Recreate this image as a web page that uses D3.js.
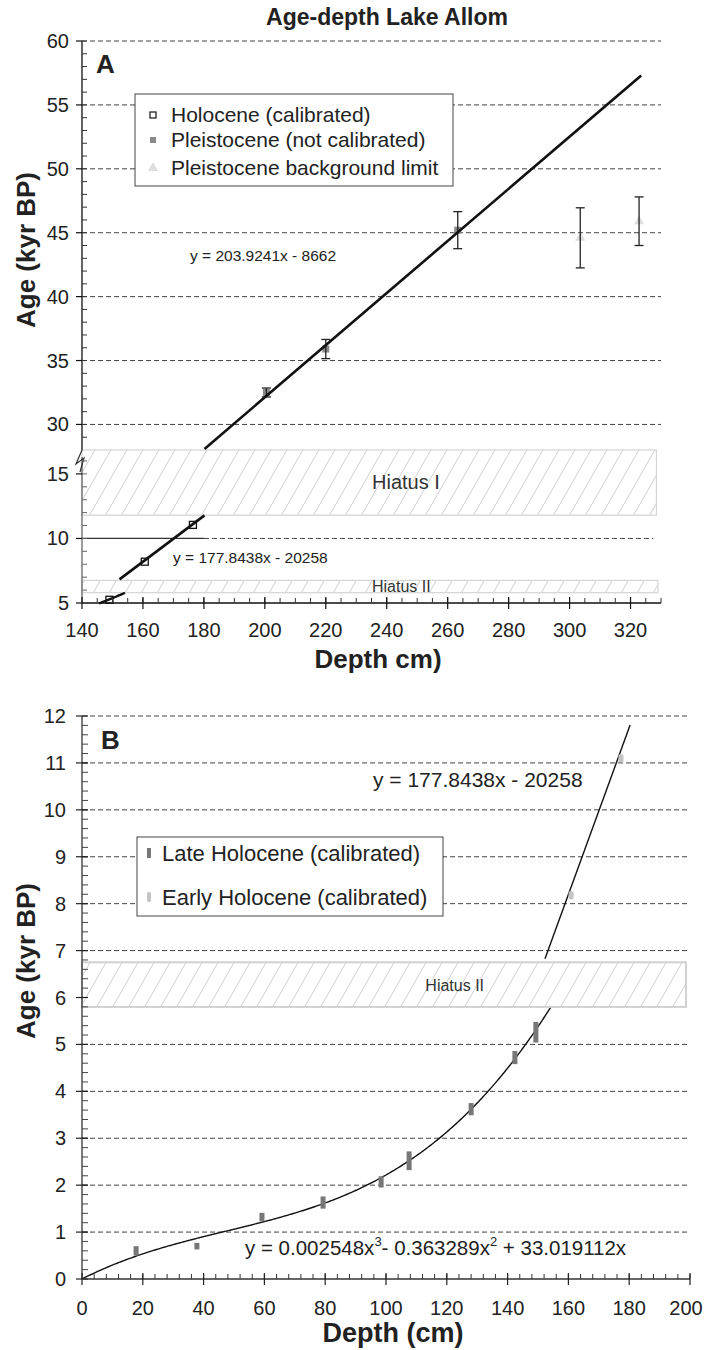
<!DOCTYPE html>
<html>
<head>
<meta charset="utf-8">
<script src="https://cdn.jsdelivr.net/npm/d3@7"></script>
<style>
  body { margin: 0; background: #fff; }
  svg { font-family: "Liberation Sans", Arial, sans-serif; }
</style>
</head>
<body>
<div id="chart"></div>
<script>
// ---- data ----
// panel A (depth cm, age kyr BP)
var holoDepth = [149, 160.6, 176.4];
var holoAge = [5.25, 8.2, 11.05];

var pleiDepth = [200.5, 220, 263.3];
var pleiAge = [32.5, 35.9, 45.2];
var pleiErr = [0.35, 0.75, 1.45];

var bgDepth = [303.5, 322.8];
var bgAge = [44.6, 45.9];
var bgErr = [2.35, 1.9];

// panel B
var lateDepth = [17.8, 37.8, 59.2, 79.3, 98.4, 107.6, 128, 142.4, 149.3];
var lateAge = [0.6, 0.7, 1.32, 1.63, 2.07, 2.52, 3.62, 4.72, 5.26];
var lateErr = [0.1, 0.07, 0.09, 0.13, 0.12, 0.2, 0.13, 0.14, 0.22];

var earlyDepth = [160.9, 177.3];
var earlyAge = [8.18, 11.1];

// trendlines as printed on the chart (age in years)
var holoFit = {slope: 177.8438, icpt: -20258};
var pleiFit = {slope: 203.9241, icpt: -8662};
var cubicFit = [0.002548, -0.363289, 33.019112];

// hiatus bands (kyr)
var hiatusI = [11.8, 16.85];
var hiatusII = [5.8, 6.75];

// tick labels
var xTicksA = [140, 160, 180, 200, 220, 240, 260, 280, 300, 320];
var yTicksAUp = [30, 35, 40, 45, 50, 55, 60];
var yTicksALo = [5, 10, 15];
var xTicksB = [0, 20, 40, 60, 80, 100, 120, 140, 160, 180, 200];
var yTicksB = [0, 1, 2, 3, 4, 5, 6, 7, 8, 9, 10, 11, 12];

var legendA = ["Holocene (calibrated)", "Pleistocene (not calibrated)", "Pleistocene background limit"];
var legendB = ["Late Holocene (calibrated)", "Early Holocene (calibrated)"];

function lin(f, x) { return (f.slope * x + f.icpt) / 1000; }
function cubic(x) { return (cubicFit[0] * x * x * x + cubicFit[1] * x * x + cubicFit[2] * x) / 1000; }

var svg = d3.select("#chart").append("svg")
    .attr("width", 704)
    .attr("height", 1350);

// hatch for the hiatus boxes
var defs = svg.append("defs");
defs.append("pattern")
    .attr("id", "hatch")
    .attr("patternUnits", "userSpaceOnUse")
    .attr("width", 16)
    .attr("height", 28)
  .append("path")
    .attr("d", "M0,28 L16,0 M-8,14 L0,0 M16,28 L24,14")
    .attr("stroke", "#cfcfcf")
    .attr("stroke-width", 1);

var dash = "5,3";

// =================== PANEL A ===================
var xA = d3.scaleLinear().domain([140, 330]).range([82, 661]);
var yUp = d3.scaleLinear().domain([28, 60]).range([450, 41]);
var yLo = d3.scaleLinear().domain([5, 16.85]).range([603, 450]);

var gA = svg.append("g");

svg.append("text")
    .attr("x", 387).attr("y", 25)
    .attr("text-anchor", "middle")
    .style("font-weight", "bold").style("font-size", "23px")
    .attr("fill", "#222")
    .text("Age-depth Lake Allom");

// gridlines
gA.selectAll(".gup").data(yTicksAUp).enter().append("line")
    .attr("x1", xA(140)).attr("x2", xA(330))
    .attr("y1", function(d) { return yUp(d); }).attr("y2", function(d) { return yUp(d); })
    .attr("stroke", "#444").attr("stroke-dasharray", dash);
gA.append("line")
    .attr("x1", xA(180)).attr("x2", xA(327.5))
    .attr("y1", yLo(10)).attr("y2", yLo(10))
    .attr("stroke", "#444").attr("stroke-dasharray", dash);
gA.append("line")
    .attr("x1", xA(140)).attr("x2", xA(180))
    .attr("y1", yLo(10)).attr("y2", yLo(10))
    .attr("stroke", "#333").attr("stroke-width", 1.2);

// hiatus boxes
gA.append("rect")
    .attr("x", xA(140)).attr("width", xA(328.5) - xA(140))
    .attr("y", yLo(hiatusI[1])).attr("height", yLo(hiatusI[0]) - yLo(hiatusI[1]))
    .attr("fill", "url(#hatch)").attr("stroke", "#d4d4d4").attr("stroke-width", 1.2);
gA.append("rect")
    .attr("x", xA(140)).attr("width", xA(329) - xA(140))
    .attr("y", yLo(hiatusII[1])).attr("height", yLo(hiatusII[0]) - yLo(hiatusII[1]))
    .attr("fill", "url(#hatch)").attr("stroke", "#d4d4d4").attr("stroke-width", 1.2);
gA.append("text")
    .attr("x", 372).attr("y", yLo(14.35) + 7)
    .style("font-size", "20px").attr("fill", "#333")
    .text("Hiatus I");
gA.append("text")
    .attr("x", 372).attr("y", yLo(6.27) + 5.5)
    .style("font-size", "16px").attr("fill", "#333")
    .text("Hiatus II");

// fit lines
var lineUp = d3.line().x(function(d) { return xA(d); }).y(function(d) { return yUp(lin(pleiFit, d)); });
var lineLo = d3.line().x(function(d) { return xA(d); }).y(function(d) { return yLo(lin(holoFit, d)); });
gA.append("path").datum([152.3, 180.2]).attr("d", lineLo)
    .attr("fill", "none").attr("stroke", "#111").attr("stroke-width", 2.6);
var curveA = d3.line().x(function(d) { return xA(d); }).y(function(d) { return yLo(cubic(d)); });
gA.append("path").datum(d3.range(145.6, 154.5, 0.5)).attr("d", curveA)
    .attr("fill", "none").attr("stroke", "#111").attr("stroke-width", 2.4);

// error bars
function errBars(g, xs, ys, es, xsc, ysc) {
    xs.forEach(function(x, i) {
        var px = xsc(x), top = ysc(ys[i] + es[i]), bot = ysc(ys[i] - es[i]);
        g.append("line").attr("x1", px).attr("x2", px).attr("y1", top).attr("y2", bot)
            .attr("stroke", "#222").attr("stroke-width", 1.3);
        g.append("line").attr("x1", px - 4.5).attr("x2", px + 4.5).attr("y1", top).attr("y2", top)
            .attr("stroke", "#222").attr("stroke-width", 1.3);
        g.append("line").attr("x1", px - 4.5).attr("x2", px + 4.5).attr("y1", bot).attr("y2", bot)
            .attr("stroke", "#222").attr("stroke-width", 1.3);
    });
}

// pleistocene squares
gA.selectAll(".plei").data(pleiDepth).enter().append("rect")
    .attr("x", function(d) { return xA(d) - 3.5; })
    .attr("y", function(d, i) { return yUp(pleiAge[i]) - 3.5; })
    .attr("width", 7).attr("height", 7)
    .attr("fill", "#8a8a8a");
errBars(gA, pleiDepth, pleiAge, pleiErr, xA, yUp);

// background triangles
var tri = d3.symbol().type(d3.symbolTriangle).size(45);
gA.selectAll(".bg").data(bgDepth).enter().append("path")
    .attr("d", tri)
    .attr("transform", function(d, i) { return "translate(" + xA(d) + "," + yUp(bgAge[i]) + ")"; })
    .attr("fill", "#dedede");
errBars(gA, bgDepth, bgAge, bgErr, xA, yUp);

// fit line drawn over the markers (it passes through the 263 point)
gA.append("path").datum([180.2, 323.5]).attr("d", lineUp)
    .attr("fill", "none").attr("stroke", "#111").attr("stroke-width", 2.6);

// holocene open squares
gA.selectAll(".holo").data(holoDepth).enter().append("rect")
    .attr("x", function(d) { return xA(d) - 3.5; })
    .attr("y", function(d, i) { return yLo(holoAge[i]) - 3.5; })
    .attr("width", 7).attr("height", 7)
    .attr("fill", "none").attr("stroke", "#111").attr("stroke-width", 1.3);

// equations
gA.append("text").attr("x", 190).attr("y", 261)
    .style("font-size", "15.5px").attr("fill", "#222")
    .text("y = 203.9241x - 8662");
gA.append("text").attr("x", 173).attr("y", 563)
    .style("font-size", "15.5px").attr("fill", "#222")
    .text("y = 177.8438x - 20258");

// axes A
gA.append("line").attr("x1", xA(140)).attr("x2", xA(140)).attr("y1", yUp(60)).attr("y2", yUp(28))
    .attr("stroke", "#111").attr("stroke-width", 1.3);
gA.append("line").attr("x1", xA(140)).attr("x2", xA(140)).attr("y1", yLo(16.3)).attr("y2", yLo(5))
    .attr("stroke", "#666").attr("stroke-width", 1.3);
// break mark
gA.append("path")
    .attr("d", "M" + xA(140) + "," + yUp(28) + " l-6,14 l8,-6 l-4,14")
    .attr("fill", "none").attr("stroke", "#333").attr("stroke-width", 1.2);

gA.selectAll(".mtUp").data(d3.range(29, 60.5, 1)).enter().append("line")
    .attr("x1", xA(140)).attr("x2", xA(140) + 5)
    .attr("y1", function(d) { return yUp(d); }).attr("y2", function(d) { return yUp(d); })
    .attr("stroke", "#333");
gA.selectAll(".mtLo").data(d3.range(6, 16.5, 1)).enter().append("line")
    .attr("x1", xA(140)).attr("x2", xA(140) + 5)
    .attr("y1", function(d) { return yLo(d); }).attr("y2", function(d) { return yLo(d); })
    .attr("stroke", "#666");
gA.selectAll(".tUp").data(yTicksAUp).enter().append("line")
    .attr("x1", xA(140) - 6).attr("x2", xA(140))
    .attr("y1", function(d) { return yUp(d); }).attr("y2", function(d) { return yUp(d); })
    .attr("stroke", "#111").attr("stroke-width", 1.2);
gA.selectAll(".tLo").data(yTicksALo).enter().append("line")
    .attr("x1", xA(140) - 6).attr("x2", xA(140))
    .attr("y1", function(d) { return yLo(d); }).attr("y2", function(d) { return yLo(d); })
    .attr("stroke", "#111").attr("stroke-width", 1.2);
gA.selectAll(".lUp").data(yTicksAUp).enter().append("text")
    .attr("x", 69).attr("y", function(d) { return yUp(d) + 7; })
    .attr("text-anchor", "end").style("font-size", "20px").attr("fill", "#222")
    .text(function(d) { return d; });
gA.selectAll(".lLo").data(yTicksALo).enter().append("text")
    .attr("x", 69).attr("y", function(d) { return yLo(d) + 7; })
    .attr("text-anchor", "end").style("font-size", "20px").attr("fill", "#222")
    .text(function(d) { return d; });

// x axis A
gA.append("line").attr("x1", xA(140)).attr("x2", xA(330)).attr("y1", yLo(5)).attr("y2", yLo(5))
    .attr("stroke", "#111").attr("stroke-width", 1.3);
gA.selectAll(".xm").data(d3.range(145, 331, 5)).enter().append("line")
    .attr("x1", function(d) { return xA(d); }).attr("x2", function(d) { return xA(d); })
    .attr("y1", yLo(5) - 5).attr("y2", yLo(5))
    .attr("stroke", "#333");
gA.selectAll(".xt").data(xTicksA).enter().append("line")
    .attr("x1", function(d) { return xA(d); }).attr("x2", function(d) { return xA(d); })
    .attr("y1", yLo(5) - 6).attr("y2", yLo(5) + 6)
    .attr("stroke", "#111").attr("stroke-width", 1.2);
gA.selectAll(".xl").data(xTicksA).enter().append("text")
    .attr("x", function(d) { return xA(d); }).attr("y", 637)
    .attr("text-anchor", "middle").style("font-size", "20px").attr("fill", "#222")
    .text(function(d) { return d; });

gA.append("text").attr("x", 378).attr("y", 668)
    .attr("text-anchor", "middle").style("font-weight", "bold").style("font-size", "26px").attr("fill", "#222")
    .text("Depth cm)");
gA.append("text").attr("transform", "translate(35,250) rotate(-90)")
    .attr("text-anchor", "middle").style("font-weight", "bold").style("font-size", "26px").attr("fill", "#222")
    .text("Age (kyr BP)");
gA.append("text").attr("x", 96).attr("y", 73)
    .style("font-weight", "bold").style("font-size", "26px").attr("fill", "#222")
    .text("A");

// legend A
var lgA = gA.append("g");
lgA.append("rect").attr("x", 135).attr("y", 94).attr("width", 318).attr("height", 92)
    .attr("fill", "#fff").attr("stroke", "#444").attr("stroke-width", 1);
var lgAy = [115, 140, 168];
lgA.selectAll("text").data(legendA).enter().append("text")
    .attr("x", 171).attr("y", function(d, i) { return lgAy[i] + 7; })
    .style("font-size", "21px").attr("fill", "#222")
    .text(function(d) { return d; });
lgA.append("rect").attr("x", 150).attr("y", lgAy[0] - 3).attr("width", 6).attr("height", 6)
    .attr("fill", "none").attr("stroke", "#111").attr("stroke-width", 1.2);
lgA.append("rect").attr("x", 150).attr("y", lgAy[1] - 3).attr("width", 6).attr("height", 6)
    .attr("fill", "#8a8a8a");
lgA.append("path").attr("d", tri).attr("transform", "translate(153," + lgAy[2] + ")")
    .attr("fill", "#dedede");

// =================== PANEL B ===================
var xB = d3.scaleLinear().domain([0, 200]).range([82, 690]);
var yB = d3.scaleLinear().domain([0, 12]).range([1279, 716]);
var gB = svg.append("g");

gB.selectAll(".gb").data(yTicksB.filter(function(d) { return d > 0; })).enter().append("line")
    .attr("x1", xB(0)).attr("x2", xB(200))
    .attr("y1", function(d) { return yB(d); }).attr("y2", function(d) { return yB(d); })
    .attr("stroke", "#444").attr("stroke-dasharray", dash);

// cubic trend
var curveB = d3.line().x(function(d) { return xB(d); }).y(function(d) { return yB(cubic(d)); });
gB.append("path").datum(d3.range(0, 154.6, 0.5)).attr("d", curveB)
    .attr("fill", "none").attr("stroke", "#111").attr("stroke-width", 1.4);

// hiatus II
gB.append("rect")
    .attr("x", xB(0)).attr("width", xB(198.7) - xB(0))
    .attr("y", yB(hiatusII[1])).attr("height", yB(hiatusII[0]) - yB(hiatusII[1]))
    .attr("fill", "#fff").attr("stroke", "none");
gB.append("rect")
    .attr("x", xB(0)).attr("width", xB(198.7) - xB(0))
    .attr("y", yB(hiatusII[1])).attr("height", yB(hiatusII[0]) - yB(hiatusII[1]))
    .attr("fill", "url(#hatch)").attr("stroke", "#d0d0d0").attr("stroke-width", 2);
gB.append("text").attr("x", xB(122.6)).attr("y", yB(6.27) + 6)
    .attr("text-anchor", "middle").style("font-size", "16px").attr("fill", "#333")
    .text("Hiatus II");

// linear trend
var lineB = d3.line().x(function(d) { return xB(d); }).y(function(d) { return yB(lin(holoFit, d)); });
gB.append("path").datum([152.3, 180.3]).attr("d", lineB)
    .attr("fill", "none").attr("stroke", "#111").attr("stroke-width", 1.4);

// late holocene bars
gB.selectAll(".late").data(lateDepth).enter().append("rect")
    .attr("x", function(d) { return xB(d) - 2.5; })
    .attr("y", function(d, i) { return yB(lateAge[i] + lateErr[i]); })
    .attr("width", 5)
    .attr("height", function(d, i) { return yB(lateAge[i] - lateErr[i]) - yB(lateAge[i] + lateErr[i]); })
    .attr("fill", "#777");
gB.selectAll(".early").data(earlyDepth).enter().append("rect")
    .attr("x", function(d) { return xB(d) - 2.5; })
    .attr("y", function(d, i) { return yB(earlyAge[i]) - 4; })
    .attr("width", 5).attr("height", 8).attr("rx", 1.5)
    .attr("fill", "#c4c4c4");

// equations
gB.append("text").attr("x", 373).attr("y", 787)
    .style("font-size", "21px").attr("fill", "#222")
    .text("y = 177.8438x - 20258");
var eq = gB.append("text").attr("x", 245).attr("y", 1255)
    .style("font-size", "20.5px").attr("fill", "#222");
eq.append("tspan").text("y = 0.002548x");
eq.append("tspan").attr("dy", -9).style("font-size", "13px").text("3");
eq.append("tspan").attr("dy", 9).text("- 0.363289x");
eq.append("tspan").attr("dy", -9).style("font-size", "13px").text("2");
eq.append("tspan").attr("dy", 9).text(" + 33.019112x");

// axes B
gB.append("line").attr("x1", xB(0)).attr("x2", xB(0)).attr("y1", yB(12)).attr("y2", yB(0))
    .attr("stroke", "#333").attr("stroke-width", 1.3);
gB.selectAll(".ymb").data(d3.range(0.2, 12, 0.2)).enter().append("line")
    .attr("x1", xB(0)).attr("x2", xB(0) + 6)
    .attr("y1", function(d) { return yB(d); }).attr("y2", function(d) { return yB(d); })
    .attr("stroke", "#444");
gB.selectAll(".ytb").data(yTicksB).enter().append("line")
    .attr("x1", xB(0) - 6).attr("x2", xB(0) + 6)
    .attr("y1", function(d) { return yB(d); }).attr("y2", function(d) { return yB(d); })
    .attr("stroke", "#222").attr("stroke-width", 1.2);
gB.selectAll(".ylb").data(yTicksB).enter().append("text")
    .attr("x", 66).attr("y", function(d) { return yB(d) + 7; })
    .attr("text-anchor", "end").style("font-size", "20px").attr("fill", "#222")
    .text(function(d) { return d; });

gB.append("line").attr("x1", xB(0)).attr("x2", xB(200)).attr("y1", yB(0)).attr("y2", yB(0))
    .attr("stroke", "#333").attr("stroke-width", 1.3);
gB.selectAll(".xmb").data(d3.range(4, 201, 4)).enter().append("line")
    .attr("x1", function(d) { return xB(d); }).attr("x2", function(d) { return xB(d); })
    .attr("y1", yB(0) - 5).attr("y2", yB(0))
    .attr("stroke", "#333");
gB.selectAll(".xtb").data(xTicksB).enter().append("line")
    .attr("x1", function(d) { return xB(d); }).attr("x2", function(d) { return xB(d); })
    .attr("y1", yB(0) - 6).attr("y2", yB(0) + 6)
    .attr("stroke", "#222").attr("stroke-width", 1.2);
// last label nudged left so it stays inside the page
gB.selectAll(".xlb").data(xTicksB).enter().append("text")
    .attr("x", function(d) { return d === 200 ? xB(d) - 4 : xB(d); }).attr("y", 1315)
    .attr("text-anchor", "middle").style("font-size", "20px").attr("fill", "#222")
    .text(function(d) { return d; });

gB.append("text").attr("x", 393).attr("y", 1342)
    .attr("text-anchor", "middle").style("font-weight", "bold").style("font-size", "27px").attr("fill", "#222")
    .text("Depth (cm)");
gB.append("text").attr("transform", "translate(35,961) rotate(-90)")
    .attr("text-anchor", "middle").style("font-weight", "bold").style("font-size", "26px").attr("fill", "#222")
    .text("Age (kyr BP)");
gB.append("text").attr("x", 101).attr("y", 749)
    .style("font-weight", "bold").style("font-size", "26px").attr("fill", "#222")
    .text("B");

// legend B
var lgB = gB.append("g");
lgB.append("rect").attr("x", 137).attr("y", 837).attr("width", 306).attr("height", 79)
    .attr("fill", "#fff").attr("stroke", "#444").attr("stroke-width", 1);
var lgBy = [853, 897];
lgB.selectAll("text").data(legendB).enter().append("text")
    .attr("x", 162).attr("y", function(d, i) { return lgBy[i] + 8; })
    .style("font-size", "22px").attr("fill", "#222")
    .text(function(d) { return d; });
lgB.append("rect").attr("x", 147).attr("y", lgBy[0] - 5).attr("width", 4).attr("height", 10).attr("fill", "#777");
lgB.append("rect").attr("x", 147).attr("y", lgBy[1] - 5).attr("width", 4).attr("height", 10).attr("rx", 1.5).attr("fill", "#c4c4c4");
</script>
</body>
</html>
